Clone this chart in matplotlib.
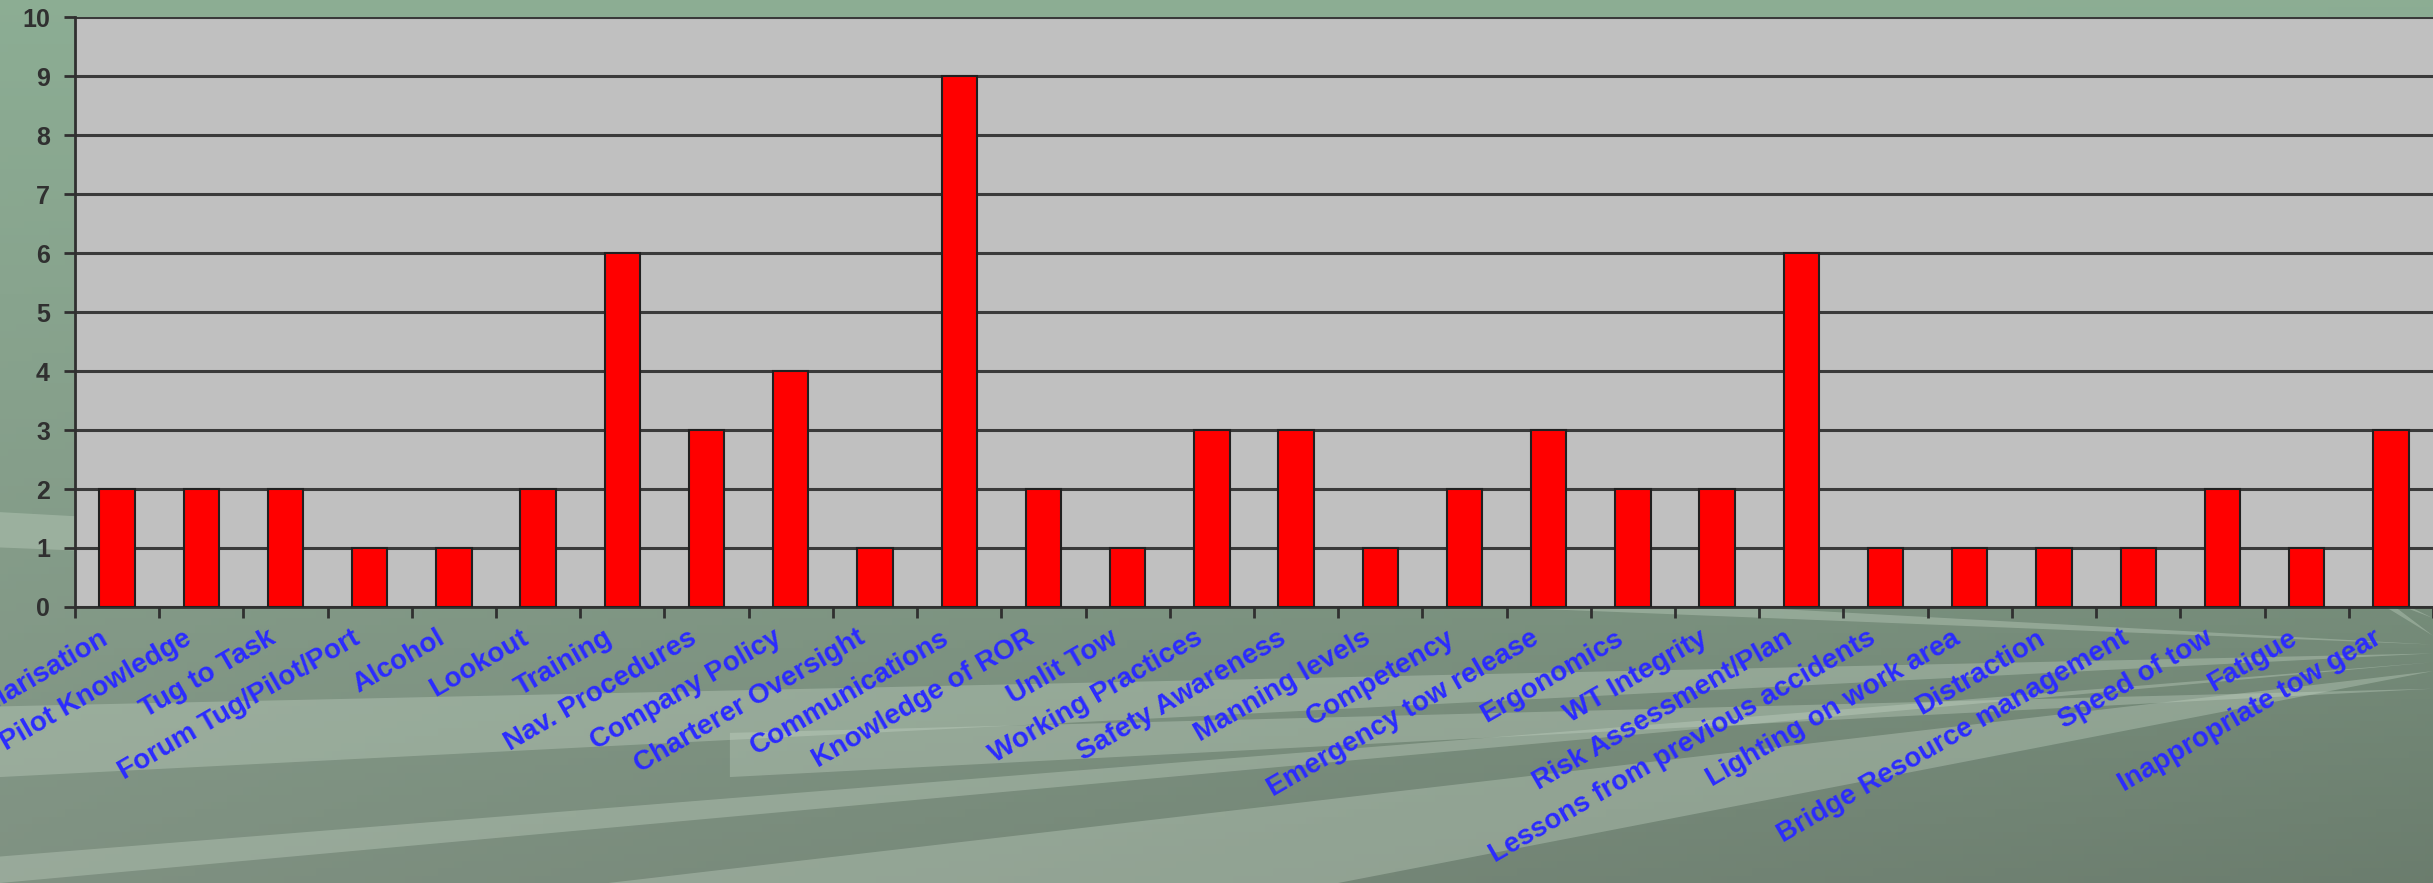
import numpy as np
import matplotlib.pyplot as plt
from matplotlib.patches import Polygon
import matplotlib.transforms as mtransforms

categories = ["Familiarisation", "Pilot Knowledge", "Tug to Task", "Forum Tug/Pilot/Port",
              "Alcohol", "Lookout", "Training", "Nav. Procedures", "Company Policy",
              "Charterer Oversight", "Communications", "Knowledge of ROR", "Unlit Tow",
              "Working Practices", "Safety Awareness", "Manning levels", "Competency",
              "Emergency tow release", "Ergonomics", "WT Integrity", "Risk Assessment/Plan",
              "Lessons from previous accidents", "Lighting on work area", "Distraction",
              "Bridge Resource management", "Speed of tow", "Fatigue", "Inappropriate tow gear"]
counts = [2, 2, 2, 1, 1, 2, 6, 3, 4, 1, 9, 2, 1, 3, 3, 1, 2, 3, 2, 2, 6, 1, 1, 1, 1, 2, 1, 3]
y_ticks = list(range(0, 11))

fig = plt.figure(figsize=(24.33, 8.83), dpi=100)

# slide-like background: green-grey gradient with light streaks
bg = fig.add_axes([0, 0, 1, 1], zorder=0)
gx = np.linspace(0, 1, 300)
gy = np.linspace(0, 1, 120)
X, Y = np.meshgrid(gx, gy)
top = np.array([0.55, 0.68, 0.58])
bottom = np.array([0.50, 0.57, 0.51])
img = bottom + (top - bottom) * Y[..., None]
img = img - 0.08 * X[..., None] * (1 - Y[..., None])
bg.imshow(np.clip(img, 0, 1), extent=[0, 1, 0, 1], origin="lower", aspect="auto")
streaks = [
    [(1.0, 0.27), (0.0, 0.42), (0.0, 0.38)],
    [(1.0, 0.26), (0.0, 0.20), (0.0, 0.12)],
    [(1.0, 0.24), (0.25, 0.0), (0.55, 0.0)],
    [(1.0, 0.30), (0.62, 0.70), (0.70, 0.70)],
    [(1.0, 0.28), (0.75, 0.70), (0.80, 0.70)],
    [(1.0, 0.22), (0.30, 0.12), (0.30, 0.17)],
    [(1.0, 0.25), (0.0, 0.03), (0.0, 0.0)],
]
for pts in streaks:
    bg.add_patch(Polygon(pts, closed=True, facecolor="#c8d8c8", alpha=0.35, edgecolor="none"))
bg.set_xlim(0, 1)
bg.set_ylim(0, 1)
bg.axis("off")

ax = fig.add_axes([0.0308, 0.3126, 0.9692, 0.668], zorder=1)
ax.set_facecolor("#c0c0c0")
x = np.arange(len(categories))
ax.bar(x, counts, width=0.42, color="#ff0000", edgecolor="#202020", linewidth=1.5, zorder=3)

ax.set_xlim(-0.5, len(categories) - 0.5)
ax.set_ylim(0, 10)
ax.set_yticks(y_ticks)
ax.yaxis.grid(True, color="#3a3a3a", linewidth=2.2)
ax.set_axisbelow(True)

for s in ["top", "right"]:
    ax.spines[s].set_visible(False)
ax.spines["left"].set_linewidth(2)
ax.spines["left"].set_color("#303030")
ax.spines["bottom"].set_linewidth(2)
ax.spines["bottom"].set_color("#303030")

ax.tick_params(axis="y", length=8, width=2, color="#303030", labelsize=18,
               labelcolor="#303030", pad=10)
for lab in ax.get_yticklabels():
    lab.set_fontweight("bold")
    lab.set_family("Liberation Sans")

# minor ticks between categories, labels at centres
ax.set_xticks(np.arange(-0.5, len(categories), 1.0), minor=True)
ax.tick_params(axis="x", which="minor", length=8, width=2, color="#303030")
ax.set_xticks(x)
ax.tick_params(axis="x", which="major", length=0, pad=13)
ax.set_xticklabels(categories, rotation=30, ha="right", va="top",
                   fontsize=20, fontweight="bold", color="#2b2bff", family="Liberation Sans")
shift = mtransforms.ScaledTranslation(-5 / 100, 0, fig.dpi_scale_trans)
for lab in ax.get_xticklabels():
    lab.set_transform(lab.get_transform() + shift)

fig.savefig("out.png", dpi=100)
